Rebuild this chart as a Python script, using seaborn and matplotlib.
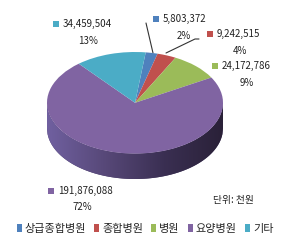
import numpy as np
import matplotlib
matplotlib.use("Agg")
import matplotlib.pyplot as plt
import seaborn as sns
from matplotlib.colors import LinearSegmentedColormap

sns.set_theme(style="white")
plt.rcParams['font.family'] = ['Noto Sans CJK KR', 'DejaVu Sans']

categories = ["상급종합병원", "종합병원", "병원", "요양병원", "기타"]
values = [5803372, 9242515, 24172786, 191876088, 34459504]
pct_labels = ["2%", "4%", "9%", "72%", "13%"]
colors = ["#4F81BD", "#C0504D", "#9BBB59", "#8064A2", "#4BACC6"]
unit_text = "단위: 천원"

W, H = 290, 244
fig = plt.figure(figsize=(W / 100, H / 100), dpi=100)
fig.patch.set_facecolor("white")

# overlay axes in pixel coordinates
ax0 = fig.add_axes([0, 0, 1, 1])
ax0.set_xlim(0, W)
ax0.set_ylim(H, 0)
ax0.axis("off")

# pie axes (ellipse with depth)
px0, px1, py0, py1 = 47, 223, 52, 179
depth = 0.50
ax = fig.add_axes([px0 / W, (H - py1) / H, (px1 - px0) / W, (py1 - py0) / H])

# side of the cylinder (front half, purple slice), shaded left->right
xs = np.linspace(-1, 1, 301)
yt = -np.sqrt(np.clip(1 - xs ** 2, 0, 1))
poly_x = np.concatenate([xs, xs[::-1]])
poly_y = np.concatenate([yt, (yt - depth)[::-1]])
side = ax.fill(poly_x, poly_y, color="#4A3D68", linewidth=0)[0]
cmap = LinearSegmentedColormap.from_list("side", ["#7060A0", "#574878", "#3A2F52", "#2A2138"])
grad = np.linspace(0, 1, 256).reshape(1, -1)
img = ax.imshow(grad, extent=(-1, 1, -1 - depth, 0), cmap=cmap, aspect="auto", zorder=1)
img.set_clip_path(side)

wedges, _ = ax.pie(values, colors=colors, startangle=83, counterclock=False,
                   radius=1, center=(0, 0), frame=True,
                   wedgeprops=dict(linewidth=0, zorder=2))
ax.set_aspect("auto")
ax.set_xlim(-1, 1)
ax.set_ylim(-1 - depth, 1)
ax.axis("off")

# data labels
fs = 7
label_pos = {
    0: (163, 19, 184, 36),
    1: (217, 34, 240, 51),
    2: (222, 66, 247, 83),
    3: (58, 191, 82, 207),
    4: (63, 24, 88, 41),
}
for i, (tx, ty, pxx, pyy) in label_pos.items():
    ax0.scatter([tx - 7], [ty], marker="s", s=14, color=colors[i], linewidths=0)
    ax0.text(tx, ty, f"{values[i]:,}", fontsize=fs, va="center", ha="left", color="#222222")
    ax0.text(pxx, pyy, pct_labels[i], fontsize=fs, va="center", ha="center", color="#222222")

# leader lines
ax0.plot([146, 153], [23, 53], color="#333333", lw=0.8)
ax0.plot([166, 195, 199], [53, 39, 39], color="#333333", lw=0.8)

ax0.text(233, 200, unit_text, fontsize=7, va="center", ha="center", color="#222222")

leg = fig.legend(wedges, categories, loc="center", bbox_to_anchor=(0.5, (H - 229) / H),
                 ncol=5, frameon=False, fontsize=8, handlelength=0.45, handleheight=0.7,
                 handletextpad=0.25, columnspacing=0.75, borderpad=0)

fig.savefig("out.png", dpi=100, facecolor="white")
